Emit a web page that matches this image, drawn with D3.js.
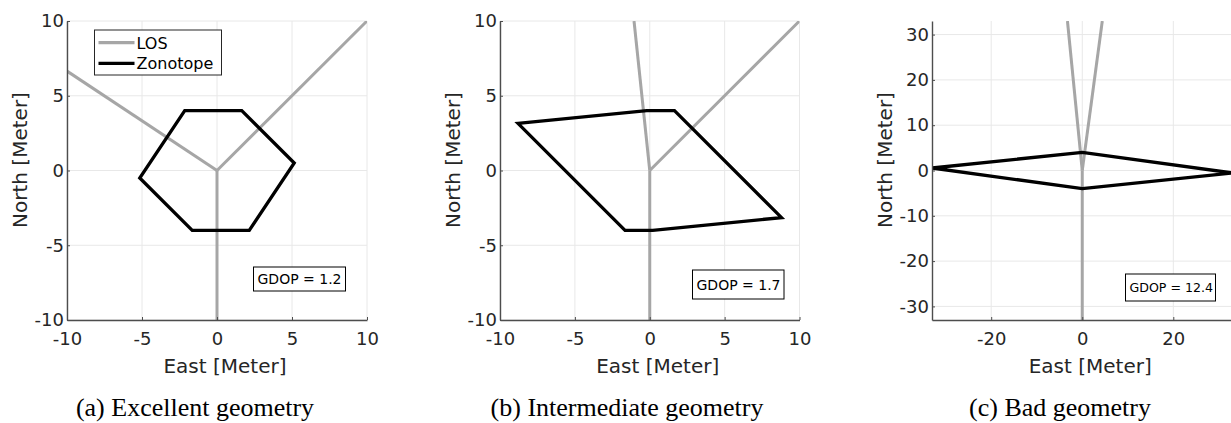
<!DOCTYPE html>
<html>
<head>
<meta charset="utf-8">
<script src="https://cdn.jsdelivr.net/npm/d3@7"></script>
<style>
  html, body { margin: 0; padding: 0; background: #fff; }
  svg { display: block; }
  .tick text { font-family: "DejaVu Sans", sans-serif; fill: #262626; }
</style>
</head>
<body>
<svg id="fig" width="1231" height="423"></svg>
<script>
// Sub-figure captions and GDOP annotations
const captions = ["(a) Excellent geometry", "(b) Intermediate geometry", "(c) Bad geometry"];
const gdopValues = [1.2, 1.7, 12.4];

// Symmetric axis limits (East and North) per sub-figure, in metres
const axisLimits = [10, 10, 33];
const xTicks = [[-10, -5, 0, 5, 10], [-10, -5, 0, 5, 10], [-20, 0, 20]];
const yTicks = [[-10, -5, 0, 5, 10], [-10, -5, 0, 5, 10], [-30, -20, -10, 0, 10, 20, 30]];

// Line-of-sight rays from the receiver at the origin: [east, north] end points
const losRays = [
  [[10, 10], [-10, 6.65], [0, -10]],
  [[10, 10], [-1.05, 10], [0, -10]],
  [[-3.25, 33], [4.4, 33], [0, -33]]
];

// Zonotope vertices (closed polygon) per sub-figure
const zonotopes = [
  [[-2.15, 4], [1.65, 4], [5.15, 0.5], [2.15, -4], [-1.65, -4], [-5.15, -0.5]],
  [[-8.8, 3.15], [-0.2, 4], [1.65, 4], [8.8, -3.15], [0.2, -4], [-1.65, -4]],
  [[-33, 0.55], [0, 4], [33, -0.55], [0, -4]]
];

const legendLabels = ["LOS", "Zonotope"];

// Layout of each axes box (pixels)
const layout = [
  { x0: 67,  x1: 367,    ylab: 20,  cap: 195,  gdop: { x: 253.5, y: 267, w: 92, h: 24, fs: 14 } },
  { x0: 500, x1: 799.5,  ylab: 453, cap: 627,  gdop: { x: 692.5, y: 270, w: 91.5, h: 29, fs: 14 } },
  { x0: 932, x1: 1232.5, ylab: 885, cap: 1060, gdop: { x: 1125.5, y: 274, w: 90, h: 27, fs: 12.6 } }
];
const plotTop = 21, plotBottom = 320;

const losColor = "#a6a6a6", zonoColor = "#000000", axisColor = "#4d4d4d", gridColor = "#e8e8e8";

const svg = d3.select("#fig");

captions.forEach((cap, i) => {
  const L = layout[i];
  const lim = axisLimits[i];
  const x = d3.scaleLinear().domain([-lim, lim]).range([L.x0, L.x1]);
  const y = d3.scaleLinear().domain([-lim, lim]).range([plotBottom, plotTop]);

  const g = svg.append("g");

  // grid
  g.append("g").selectAll("line").data(xTicks[i]).join("line")
    .attr("x1", d => x(d)).attr("x2", d => x(d))
    .attr("y1", plotTop).attr("y2", plotBottom)
    .attr("stroke", gridColor).attr("stroke-width", 1);
  g.append("g").selectAll("line").data(yTicks[i]).join("line")
    .attr("y1", d => y(d)).attr("y2", d => y(d))
    .attr("x1", L.x0).attr("x2", L.x1)
    .attr("stroke", gridColor).attr("stroke-width", 1);

  // clip region for the data lines
  const clipId = "clip" + i;
  svg.append("clipPath").attr("id", clipId).append("rect")
    .attr("x", L.x0).attr("y", plotTop).attr("width", L.x1 - L.x0).attr("height", plotBottom - plotTop);

  const plot = g.append("g").attr("clip-path", `url(#${clipId})`);

  // LOS rays
  plot.selectAll("line").data(losRays[i]).join("line")
    .attr("x1", x(0)).attr("y1", y(0))
    .attr("x2", d => x(d[0])).attr("y2", d => y(d[1]))
    .attr("stroke", losColor).attr("stroke-width", 3).attr("stroke-linecap", "butt");

  // zonotope outline
  plot.append("path")
    .attr("d", d3.line().x(d => x(d[0])).y(d => y(d[1])).curve(d3.curveLinearClosed)(zonotopes[i]))
    .attr("fill", "none").attr("stroke", zonoColor).attr("stroke-width", 3.3)
    .attr("stroke-linejoin", "miter");

  // axes
  const ax = g.append("g").attr("transform", `translate(0,${plotBottom})`)
    .call(d3.axisBottom(x).tickValues(xTicks[i]).tickSizeInner(-3).tickSizeOuter(0).tickPadding(12)
      .tickFormat(d3.format("d")));
  const ay = g.append("g").attr("transform", `translate(${L.x0},0)`)
    .call(d3.axisLeft(y).tickValues(yTicks[i]).tickSizeInner(-3).tickSizeOuter(0).tickPadding(3)
      .tickFormat(d3.format("d")));
  [ax, ay].forEach(a => {
    a.select(".domain").attr("stroke", axisColor).attr("stroke-width", 1.4);
    a.selectAll(".tick line").attr("stroke", axisColor).attr("stroke-width", 1);
    a.selectAll(".tick text").attr("font-size", 18).attr("fill", "#262626")
      .text(function () { return this.textContent.replace("\u2212", "-"); });
  });

  // axis labels
  g.append("text").attr("x", (L.x0 + L.x1) / 2 + 8).attr("y", 373)
    .attr("text-anchor", "middle").attr("font-family", "DejaVu Sans").attr("font-size", 20)
    .attr("fill", "#262626").text("East [Meter]");
  g.append("text").attr("transform", `translate(${L.ylab + 7},160) rotate(-90)`)
    .attr("text-anchor", "middle").attr("font-family", "DejaVu Sans").attr("font-size", 20)
    .attr("fill", "#262626").text("North [Meter]");

  // GDOP annotation
  const b = L.gdop;
  g.append("rect").attr("x", b.x).attr("y", b.y).attr("width", b.w).attr("height", b.h)
    .attr("fill", "#fff").attr("stroke", "#000").attr("stroke-width", 1);
  g.append("text").attr("x", b.x + 4).attr("y", b.y + b.h / 2 + b.fs * 0.36)
    .attr("font-family", "DejaVu Sans").attr("font-size", b.fs).attr("fill", "#000")
    .text("GDOP = " + gdopValues[i]);

  // caption
  g.append("text").attr("x", L.cap).attr("y", 416).attr("text-anchor", "middle")
    .attr("font-family", "Liberation Serif, Times New Roman, serif").attr("font-size", 26)
    .attr("fill", "#000").text(cap);
});

// legend in the first sub-figure
const lg = svg.append("g");
lg.append("rect").attr("x", 94.5).attr("y", 30).attr("width", 127).attr("height", 45)
  .attr("fill", "#fff").attr("stroke", "#262626").attr("stroke-width", 1);
const legendColors = [losColor, zonoColor];
legendLabels.forEach((lab, k) => {
  const yy = 42.7 + k * 20.6;
  lg.append("line").attr("x1", 98.5).attr("x2", 134.5).attr("y1", yy).attr("y2", yy)
    .attr("stroke", legendColors[k]).attr("stroke-width", 3.3);
  lg.append("text").attr("x", 136.5).attr("y", yy + 5.8)
    .attr("font-family", "DejaVu Sans").attr("font-size", 16).attr("fill", "#000").text(lab);
});
</script>
</body>
</html>
